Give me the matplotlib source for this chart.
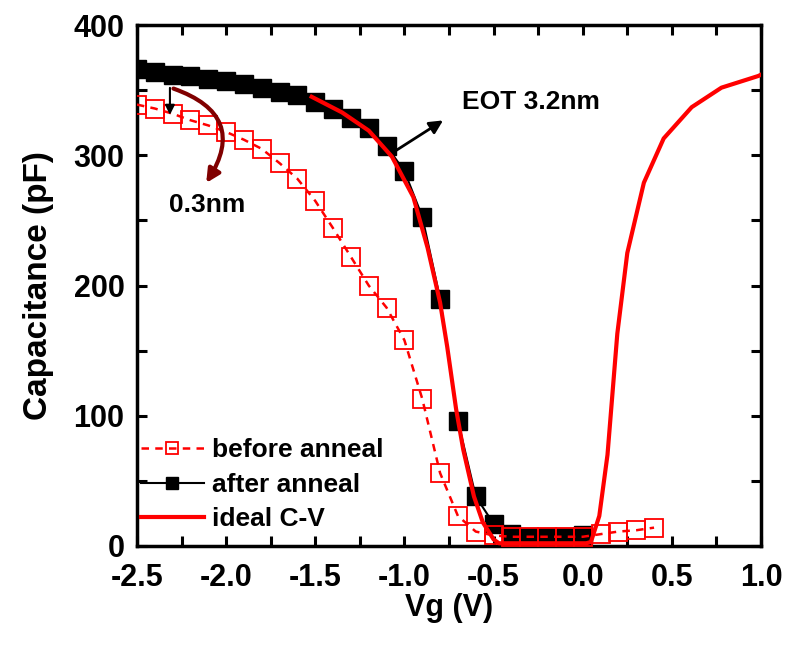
#!/usr/bin/env python3
"""
C-V curves of the gate stack before and after anneal, with the ideal C-V fit.
"""

import matplotlib

matplotlib.use("Agg")
import matplotlib.pyplot as plt
from matplotlib.patches import FancyArrowPatch
from matplotlib.ticker import MultipleLocator

# measured gate voltage sweep (V) and capacitance (pF)
vg_before = [-2.5, -2.4, -2.3, -2.2, -2.1, -2.0, -1.9, -1.8, -1.7, -1.6,
             -1.5, -1.4, -1.3, -1.2, -1.1, -1.0, -0.9, -0.8, -0.7, -0.6,
             -0.5, -0.4, -0.3, -0.2, -0.1, 0.0, 0.1, 0.2, 0.3, 0.4]
cap_before = [339, 336, 332, 327, 323, 318, 312, 305, 294, 282,
              265, 244, 222, 200, 183, 158, 113, 56, 23, 11,
              8, 7, 7, 7, 7, 7, 9, 11, 12, 14]

vg_after = [-2.5, -2.4, -2.3, -2.2, -2.1, -2.0, -1.9, -1.8, -1.7, -1.6,
            -1.5, -1.4, -1.3, -1.2, -1.1, -1.0, -0.9, -0.8, -0.7, -0.6,
            -0.5, -0.4, -0.3, -0.2, -0.1, 0.0]
cap_after = [366, 364, 362, 361, 359, 357, 355, 352, 349, 346,
             341, 336, 329, 321, 307, 288, 253, 190, 96, 38,
             17, 9, 7, 7, 7, 8]

# simulated ideal C-V for EOT 3.2 nm
vg_ideal = [-1.52, -1.35, -1.2, -1.07, -0.95, -0.87, -0.80, -0.76, -0.71,
            -0.67, -0.61, -0.56, -0.50, -0.47, 0.02, 0.046, 0.093, 0.139,
            0.194, 0.25, 0.343, 0.454, 0.611, 0.778, 0.985, 1.0]
cap_ideal = [345, 333, 319, 299, 268, 229, 187, 153, 105,
             74, 38, 18, 5, 2, 2, 3, 23, 70,
             163, 225, 279, 313, 337, 352, 361, 362]

plt.rcParams["font.family"] = ["Liberation Sans", "DejaVu Sans"]
plt.rcParams["font.weight"] = "bold"
plt.rcParams["axes.unicode_minus"] = False

fig = plt.figure(figsize=(7.87, 6.46), dpi=100)
ax = fig.add_axes([0.174, 0.155, 0.793, 0.806])

ax.plot(vg_after, cap_after, color="black", lw=1.5, marker="s",
        markersize=13, markerfacecolor="black", markeredgecolor="black",
        label="after anneal", zorder=2)
ax.plot(vg_before, cap_before, color="red", lw=1.8, ls=(0, (3, 2.5)),
        marker="s", markersize=12.5, markerfacecolor="none",
        markeredgecolor="red", markeredgewidth=1.3,
        label="before anneal", zorder=3)
ax.plot(vg_ideal, cap_ideal, color="red", lw=3, label="ideal C-V", zorder=4)

ax.set_xlim(-2.5, 1.0)
ax.set_ylim(0, 400)
ax.xaxis.set_major_locator(MultipleLocator(0.5))
ax.xaxis.set_minor_locator(MultipleLocator(0.25))
ax.yaxis.set_major_locator(MultipleLocator(100))
ax.yaxis.set_minor_locator(MultipleLocator(50))
ax.tick_params(which="both", direction="in", top=True, right=True,
               length=7, width=2.2)
ax.tick_params(axis="x", labelsize=22, pad=12)
ax.tick_params(axis="y", labelsize=22, pad=9)
for lbl in ax.get_xticklabels() + ax.get_yticklabels():
    lbl.set_fontweight("bold")
for sp in ax.spines.values():
    sp.set_linewidth(2.5)

ax.set_xlabel("Vg (V)", fontsize=22, fontweight="bold", labelpad=0)
ax.set_ylabel("Capacitance (pF)", fontsize=24, fontweight="bold", labelpad=14)

# annotations: oxide thickness and the shift after anneal
ax.text(-0.675, 341, "EOT 3.2nm", fontsize=19, fontweight="bold",
        va="center", ha="left")
ax.annotate("", xy=(-0.77, 328), xytext=(-1.067, 302),
            arrowprops=dict(arrowstyle="-|>", color="black", lw=2,
                            mutation_scale=20))
ax.annotate("", xy=(-2.315, 329), xytext=(-2.315, 354),
            arrowprops=dict(arrowstyle="-|>", color="black", lw=1.5,
                            mutation_scale=14))
arc = FancyArrowPatch((-2.31, 352), (-2.12, 277),
                      connectionstyle="arc3,rad=-0.65", arrowstyle="-|>",
                      color="#800000", lw=3, mutation_scale=20, zorder=5)
ax.add_patch(arc)
ax.text(-2.32, 262, "0.3nm", fontsize=19, fontweight="bold",
        va="center", ha="left")

handles, labels = ax.get_legend_handles_labels()
order = [1, 0, 2]
ax.legend([handles[i] for i in order], [labels[i] for i in order],
          loc="lower left", bbox_to_anchor=(-0.032, -0.018), frameon=False,
          markerscale=0.65, handlelength=2.4, handletextpad=0.3,
          labelspacing=0.4, prop={"weight": "bold", "size": 19})

fig.savefig("out.png", dpi=100)
plt.close(fig)
